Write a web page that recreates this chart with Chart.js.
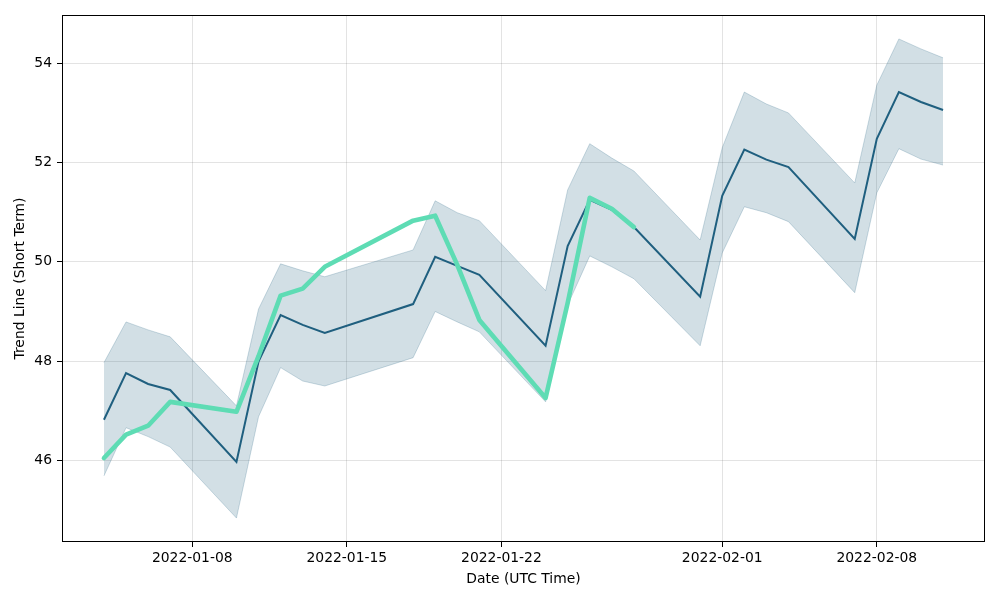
<!DOCTYPE html>
<html>
<head>
<meta charset="utf-8">
<script src="https://cdn.jsdelivr.net/npm/chart.js@4"></script>
<style>
html,body{margin:0;padding:0;background:#fff;}
#wrap{width:1000px;height:600px;}
</style>
</head>
<body>
<div id="wrap"><canvas id="c" width="1000" height="600"></canvas></div>
<script>
const dates = ['2022-01-04','2022-01-05','2022-01-06','2022-01-07','2022-01-10','2022-01-11','2022-01-12','2022-01-13','2022-01-14','2022-01-18','2022-01-19','2022-01-20','2022-01-21','2022-01-24','2022-01-25','2022-01-26','2022-01-27','2022-01-28','2022-01-31','2022-02-01','2022-02-02','2022-02-03','2022-02-04','2022-02-07','2022-02-08','2022-02-09','2022-02-10','2022-02-11'];
const trend = [46.82,47.76,47.54,47.42,45.97,47.99,48.93,48.73,48.57,49.15,50.10,49.92,49.74,48.31,50.32,51.25,51.05,50.70,49.30,51.33,52.26,52.06,51.91,50.46,52.48,53.42,53.22,53.06];
const upper = [47.97,48.79,48.63,48.49,47.10,49.05,49.96,49.82,49.70,50.24,51.23,50.99,50.83,49.42,51.45,52.38,52.09,51.83,50.44,52.30,53.42,53.18,53.00,51.59,53.56,54.49,54.29,54.11];
const lower = [45.69,46.66,46.48,46.27,44.84,46.88,47.87,47.60,47.50,48.07,49.00,48.79,48.59,47.18,49.13,50.12,49.90,49.66,48.31,50.18,51.11,50.99,50.81,49.38,51.39,52.28,52.07,51.95];
const actual = [46.05,46.52,46.70,47.18,46.98,48.10,49.32,49.46,49.90,50.83,50.93,49.94,48.83,47.26,49.17,51.29,51.07,50.70,null,null,null,null,null,null,null,null,null,null];
const xTickLabels = ['2022-01-08','2022-01-15','2022-01-22','2022-02-01','2022-02-08'];
const yTickValues = [46,48,50,52,54];

const DAY = 86400000;
function dayNum(s){ return Date.UTC(+s.slice(0,4), +s.slice(5,7)-1, +s.slice(8,10)) / DAY; }
function dayStr(n){ return new Date(Math.round(n)*DAY).toISOString().slice(0,10); }
function pts(arr){ return dates.map((d,i)=>({x:dayNum(d), y:arr[i]})); }

const xs = dates.map(dayNum);
const xMin = Math.min(...xs), xMax = Math.max(...xs);
const xPad = (xMax-xMin)*0.05;
const allY = upper.concat(lower);
const yMin = Math.min(...allY), yMax = Math.max(...allY);
const yPad = (yMax-yMin)*0.05;

const FONT = {family:'"DejaVu Sans", sans-serif', size:13.9};

const frame = {
  id:'frame',
  afterDatasetsDraw(chart){
    const a = chart.chartArea, ctx = chart.ctx;
    ctx.save();
    ctx.strokeStyle = '#000'; ctx.lineWidth = 1;
    ctx.strokeRect(Math.round(a.left)+0.5, Math.round(a.top)+0.5, Math.round(a.right-a.left)-1, Math.round(a.bottom-a.top)-1);
    ctx.restore();
  }
};

new Chart(document.getElementById('c'), {
  type:'line',
  data:{
    datasets:[
      {label:'upper', data:pts(upper), borderColor:'rgba(31,95,127,0.22)', borderWidth:1, backgroundColor:'rgba(31,95,127,0.2)', fill:'+1', pointRadius:0, tension:0, order:3},
      {label:'lower', data:pts(lower), borderColor:'rgba(31,95,127,0.22)', borderWidth:1, fill:false, pointRadius:0, tension:0, order:3},
      {label:'trend', data:pts(trend), borderColor:'#1f5f7f', borderWidth:2, fill:false, pointRadius:0, tension:0, order:2},
      {label:'actual', data:pts(actual), borderColor:'#5edcb4', borderWidth:4.6, fill:false, pointRadius:0, tension:0, spanGaps:false, order:1, borderJoinStyle:'round', borderCapStyle:'round'}
    ]
  },
  options:{
    responsive:false,
    animation:false,
    events:[],
    layout:{padding:{top:15,right:15,left:0,bottom:0}},
    plugins:{legend:{display:false}, tooltip:{enabled:false}},
    scales:{
      x:{
        type:'linear',
        min:xMin-xPad, max:xMax+xPad,
        afterBuildTicks(s){ s.ticks = xTickLabels.map(d=>({value:dayNum(d)})); },
        afterFit(s){ s.height = 58; },
        ticks:{callback:(v)=>dayStr(v), color:'#000', font:FONT, padding:3, maxRotation:0, autoSkip:false},
        grid:{color:'rgba(0,0,0,0.11)', lineWidth:1, tickLength:5, tickColor:'#000', drawTicks:true},
        border:{display:false},
        title:{display:true, text:'Date (UTC Time)', color:'#000', font:FONT, padding:{top:0,bottom:12}}
      },
      y:{
        type:'linear',
        min:yMin-yPad, max:yMax+yPad,
        afterBuildTicks(s){ s.ticks = yTickValues.map(v=>({value:v})); },
        afterFit(s){ s.width = 62; },
        ticks:{color:'#000', font:FONT, padding:5, callback:(v)=>String(v)},
        grid:{color:'rgba(0,0,0,0.11)', lineWidth:1, tickLength:5, tickColor:'#000', drawTicks:true},
        border:{display:false},
        title:{display:true, text:'Trend Line (Short Term)', color:'#000', font:FONT, padding:{top:12,bottom:4}}
      }
    }
  },
  plugins:[frame]
});
</script>
</body>
</html>
